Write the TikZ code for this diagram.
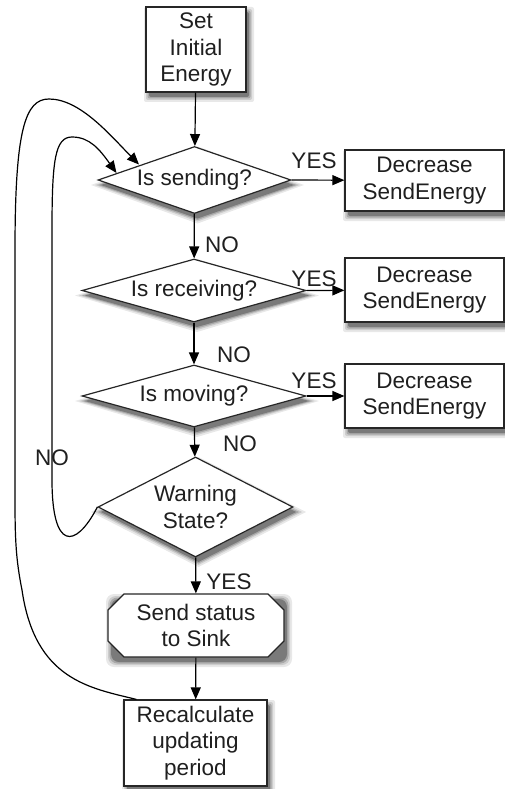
\documentclass[tikz,border=0pt]{standalone}
\usepackage{fontspec}
\setmainfont{Liberation Sans}
\usetikzlibrary{shapes.geometric,shapes.misc,arrows.meta}
% #1 x1, #2 y1, #3 x2, #4 y2, #5 grow, #6 colour, #7 corner radius
\newcommand\myrectlayer[7]{%
  \fill[#6, rounded corners=#7] ({#1+3-#5},{#2+5-#5}) rectangle ({#3+3+#5},{#4+5+#5});}
\newcommand\myrectsh[5]{% #5 corner radius
  \myrectlayer{#1}{#2}{#3}{#4}{5}{black!9}{#5}
  \myrectlayer{#1}{#2}{#3}{#4}{3}{black!20}{#5}
  \myrectlayer{#1}{#2}{#3}{#4}{1.5}{black!34}{#5}
  \myrectlayer{#1}{#2}{#3}{#4}{0}{black!52}{#5}}
% #1 cx, #2 cy, #3 half width, #4 half height, #5 grow, #6 colour
\newcommand\mydialayer[6]{%
  \fill[#6] ({#1+3},{#2+5-#4-#5}) -- ({#1+3+#3+2*#5},{#2+5}) -- ({#1+3},{#2+5+#4+#5})
    -- ({#1+3-#3-2*#5},{#2+5}) -- cycle;}
\newcommand\mydiash[4]{%
  \mydialayer{#1}{#2}{#3}{#4}{5}{black!9}
  \mydialayer{#1}{#2}{#3}{#4}{3}{black!20}
  \mydialayer{#1}{#2}{#3}{#4}{1.5}{black!34}
  \mydialayer{#1}{#2}{#3}{#4}{0}{black!52}}
\begin{document}
\begin{tikzpicture}[x=1pt,y=-1pt,
  every node/.style={font=\fontsize{22.5}{26.5}\selectfont, text=black!88},
  base/.style={draw=black!85, line width=1.2pt, fill=white, inner sep=0pt, align=center},
  box/.style={base, rectangle},
  dia/.style={base, diamond},
  cham/.style={base, chamfered rectangle, chamfered rectangle xsep=8pt, chamfered rectangle ysep=8pt},
  arr/.style={-{Triangle[length=12pt,width=10pt]}, line width=1.2pt},
  lbl/.style={inner sep=0pt}]
\useasboundingbox (0,0) rectangle (505,789);

% soft shadows
\myrectsh{146}{7}{246}{92}{2pt}
\myrectsh{345}{150}{504}{211}{2pt}
\myrectsh{345}{258}{504}{322}{2pt}
\myrectsh{345}{364}{504}{428}{2pt}
\myrectsh{108}{594}{284}{657}{8pt}
\myrectsh{124}{700}{267}{786}{2pt}
\mydiash{194.5}{180}{96.5}{33.5}
\mydiash{194}{290.5}{112}{31.5}
\mydiash{194}{396}{112}{31}
\mydiash{195.5}{507}{97.5}{50}

\node[box, minimum width=100pt, minimum height=85pt] (start) at (196,49.5) {Set\\Initial\\Energy};

\node[dia, shape aspect=2.88, minimum width=193pt, minimum height=67pt] (d1) at (194.5,180) {Is sending?};
\node[dia, shape aspect=3.56, minimum width=224pt, minimum height=63pt] (d2) at (194,290.5) {Is receiving?};
\node[dia, shape aspect=3.6, minimum width=224pt, minimum height=62pt] (d3) at (194,396) {Is moving?};
\node[dia, shape aspect=1.95, minimum width=195pt, minimum height=100pt] (d4) at (195.5,507) {Warning\\State?};

\node[box, minimum width=159pt, minimum height=61pt] (e1) at (424.5,180.5) {Decrease\\SendEnergy};
\node[box, minimum width=159pt, minimum height=64pt] (e2) at (424.5,290) {Decrease\\SendEnergy};
\node[box, minimum width=159pt, minimum height=64pt] (e3) at (424.5,396) {Decrease\\SendEnergy};

\node[cham, minimum width=176pt, minimum height=63pt] (send) at (196,625.5) {Send status\\to Sink};
\node[box, minimum width=143pt, minimum height=86pt] (rec) at (195.5,743) {Recalculate\\updating\\period};

% straight connectors
\draw[arr] (start) -- (d1);
\draw[arr] (d1) -- (d2);
\draw[arr] (d2) -- (d3);
\draw[arr] (d3) -- (d4);
\draw[arr] (d4) -- (send);
\draw[arr] (send) -- (rec);
\draw[arr] (d1.east) -- (e1);
\draw[arr] (d2.east) -- (e2);
\draw[arr] (d3.east) -- (e3);

% labels
\node[lbl] (y1) at (314,161) {YES};
\node[lbl] (y2) at (314,279) {YES};
\node[lbl] (y3) at (314,381) {YES};
\node[lbl] (y4) at (229,582) {YES};
\node[lbl] (n1) at (222,245) {NO};
\node[lbl] (n2) at (234,355) {NO};
\node[lbl] (n3) at (240,444) {NO};
\node[lbl] (n4) at (52,458) {NO};

% loops
\coordinate (t1) at (139,164.5);
\coordinate (t2) at (116.5,173);
\draw[arr] ([xshift=13pt]rec.north west) .. controls (90,688) and (35,680) .. (22,590)
   .. controls (16,560) and (15,540) .. (15,500) -- (15,250)
   .. controls (15,130) and (25,99) .. (49,99)
   .. controls (80,99) and (110,135) .. (t1);
\draw[arr] (d4.west) .. controls (75,550) and (52,550) .. (52,480) -- (52,230)
   .. controls (52,160) and (55,137) .. (72,137)
   .. controls (90,137) and (100,150) .. (t2);
\end{tikzpicture}
\end{document}
